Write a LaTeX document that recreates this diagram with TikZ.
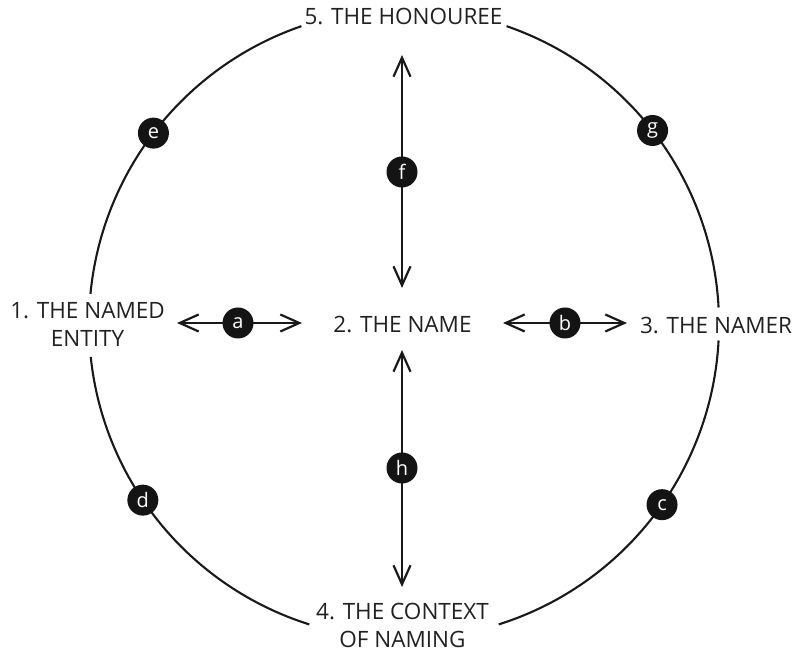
\documentclass[tikz,border=0pt]{standalone}
\usepackage{fontspec}
\setmainfont{Open Sans}
\usetikzlibrary{arrows.meta,calc}
\begin{document}
\begin{tikzpicture}[x=1pt,y=1pt,
  lbl/.style={font=\fontsize{22.5}{28}\selectfont, text=black!87, inner sep=0pt, align=center},
  badge/.style={circle, fill=black!92, minimum size=31pt, inner sep=0pt, text=white, font=\fontsize{20}{22}\selectfont},
  ring/.style={line width=2.1pt, black!90},
  dbl/.style={line width=2.2pt, black!90, {Straight Barb[length=19pt,width=17pt,line width=2.2pt]}-{Straight Barb[length=19pt,width=17pt,line width=2.2pt]}}]
\useasboundingbox (0,0) rectangle (803,652);
\coordinate (O) at (404,328);
% ring arcs
\draw[ring] (O) ++(3:315) arc[start angle=3,end angle=71,radius=315];
\draw[ring] (O) ++(109:315) arc[start angle=109,end angle=174.5,radius=315];
\draw[ring] (O) ++(186:315) arc[start angle=186,end angle=252.5,radius=315];
\draw[ring] (O) ++(287.5:315) arc[start angle=287.5,end angle=357,radius=315];
% labels
\node[lbl] (name) at (402.5,327.5) {2. THE NAME};
\node[lbl] (entity) at (87.5,328) {1. THE NAMED\\ENTITY};
\node[lbl] (namer) at (716,326.5) {3. THE NAMER};
\node[lbl] (honouree) at (403.5,635.5) {5. THE HONOUREE};
\node[lbl] (context) at (402.5,27) {4. THE CONTEXT\\OF NAMING};
% arrow tips
\coordinate (a1) at (177,329);
\coordinate (a2) at (302,329);
\coordinate (b1) at (503,329);
\coordinate (b2) at (627,329);
\coordinate (f1) at (402,597);
\coordinate (f2) at (402,364);
\coordinate (h1) at (402,302);
\coordinate (h2) at (402,65);
\draw[dbl] (a1) -- (a2);
\draw[dbl] (b1) -- (b2);
\draw[dbl] (f1) -- (f2);
\draw[dbl] (h1) -- (h2);
% badges
\node[badge] (ba) at (238,329) {a};
\node[badge] (bb) at (565,329) {b};
\node[badge] (bf) at (402,480) {f};
\node[badge] (bh) at (402,184) {h};
\node[badge] (be) at ($(O)+(142.7:315)$) {e};
\node[badge] (bg) at ($(O)+(37.9:315)$) {g};
\node[badge] (bd) at ($(O)+(214:315)$) {d};
\node[badge] (bc) at ($(O)+(325:315)$) {c};
\end{tikzpicture}
\end{document}
